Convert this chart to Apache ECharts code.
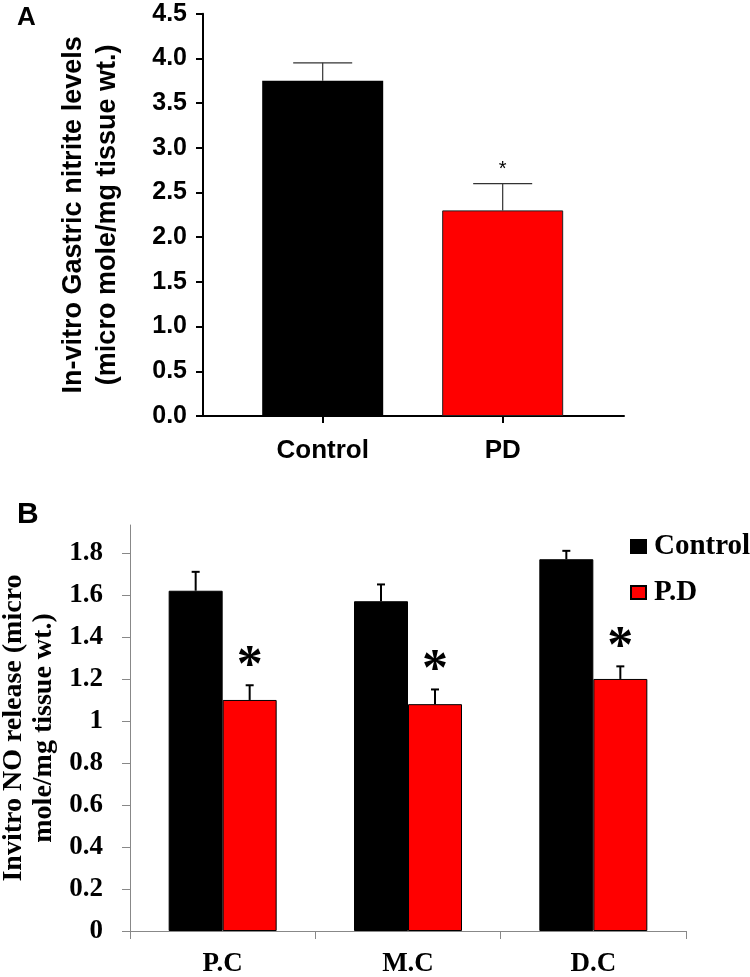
<!DOCTYPE html>
<html>
<head>
<meta charset="utf-8">
<script src="https://cdn.jsdelivr.net/npm/echarts@6/dist/echarts.min.js"></script>
<style>
  html, body { margin: 0; padding: 0; background: #fff; }
  #chart { width: 750px; height: 977px; }
</style>
</head>
<body>
<div id="chart"></div>
<script>
// panel A data
const catsA = ['Control', 'PD'];
const meanA = [3.75, 2.3];
const errA = [0.2, 0.3];
const sigA = [0, 1];
const colorsA = ['#000000', '#ff0000'];

// panel B data
const catsB = ['P.C', 'M.C', 'D.C'];
const controlB = [1.62, 1.57, 1.77];
const controlErrB = [0.09, 0.08, 0.04];
const pdB = [1.10, 1.08, 1.20];
const pdErrB = [0.07, 0.07, 0.06];
const yTicksB = [0, 0.2, 0.4, 0.6, 0.8, 1, 1.2, 1.4, 1.6, 1.8];

const SANS = 'Liberation Sans';
const SERIF = 'Liberation Serif';

let chart = echarts.init(document.getElementById('chart'));

// error bar rows: [x, mean, err, seriesIdx, sig]
let errRowsA = meanA.map((v, i) => [i, v, errA[i], 0, sigA[i]]);
let errRowsB = [];
controlB.forEach((v, i) => errRowsB.push([i, v, controlErrB[i], 0, 0]));
pdB.forEach((v, i) => errRowsB.push([i, v, pdErrB[i], 1, 1]));

function errRenderer(opt) {
  return function (params, api) {
    let cat = api.value(0), mean = api.value(1), err = api.value(2);
    let s = api.value(3), sig = api.value(4);
    let base = api.coord([cat, mean]);
    let x = base[0] + (opt.offset ? (s === 0 ? -opt.offset : opt.offset) : 0);
    let top = api.coord([cat, mean + err])[1];
    let children = [
      { type: 'line', shape: { x1: x, y1: base[1], x2: x, y2: top },
        style: { stroke: opt.color, lineWidth: opt.lw } },
      { type: 'line', shape: { x1: x - opt.cap, y1: top, x2: x + opt.cap, y2: top },
        style: { stroke: opt.color, lineWidth: opt.lw } }
    ];
    if (sig) {
      children.push({ type: 'text', x: x, y: top - opt.starGap,
        style: { text: '*', fill: '#000', font: opt.starFont, align: 'center', verticalAlign: 'middle' } });
    }
    return { type: 'group', children: children };
  };
}

let option = {
  animation: false,
  backgroundColor: '#fff',
  graphic: [
    { type: 'text', left: 17, top: 5, style: { text: 'A', font: 'bold 26px "Liberation Sans"', fill: '#000' } },
    { type: 'text', left: 17, top: 500, style: { text: 'B', font: 'bold 30px "Liberation Sans"', fill: '#000' } }
  ],
  legend: {
    data: ['Control', 'P.D'],
    orient: 'vertical',
    left: 625,
    top: 527,
    itemWidth: 15,
    itemHeight: 13,
    itemGap: 17,
    icon: 'rect',
    textStyle: { fontFamily: SERIF, fontWeight: 'bold', fontSize: 29, color: '#000', padding: [0, 0, 0, 3] }
  },
  grid: [
    { left: 203, top: 13.7, width: 421, height: 402.3, outerBoundsMode: 'none' },
    { left: 130, top: 525, width: 556, height: 406, outerBoundsMode: 'none' }
  ],
  xAxis: [
    {
      gridIndex: 0,
      type: 'value',
      min: -0.665,
      max: 1.674,
      splitLine: { show: false },
      axisLine: { show: true, onZero: false, lineStyle: { color: '#000', width: 2 } },
      axisTick: { show: true, customValues: [0, 1], length: 7, lineStyle: { color: '#000', width: 2 } },
      axisLabel: {
        customValues: [0, 1],
        formatter: v => catsA[Math.round(v)],
        margin: 22,
        fontFamily: SANS, fontWeight: 'bold', fontSize: 26, color: '#000'
      }
    },
    {
      gridIndex: 1,
      type: 'category',
      data: catsB,
      axisLine: { show: true, lineStyle: { color: '#888', width: 1 } },
      axisTick: { show: true, length: 8, lineStyle: { color: '#888', width: 1 } },
      axisLabel: { margin: 20, fontFamily: SERIF, fontWeight: 'bold', fontSize: 27, color: '#000' }
    }
  ],
  yAxis: [
    {
      gridIndex: 0,
      type: 'value',
      min: 0,
      max: 4.5,
      interval: 0.5,
      name: 'In-vitro Gastric nitrite levels\n(micro mole/mg tissue wt.)',
      nameLocation: 'middle',
      nameRotate: 90,
      nameGap: 78,
      nameTextStyle: { fontFamily: SANS, fontWeight: 'bold', fontSize: 27, color: '#000', lineHeight: 34 },
      splitLine: { show: false },
      axisLine: { show: true, onZero: false, lineStyle: { color: '#000', width: 2 } },
      axisTick: { show: true, length: 7, lineStyle: { color: '#000', width: 2 } },
      axisLabel: {
        formatter: v => v.toFixed(1),
        margin: 16,
        fontFamily: SANS, fontWeight: 'bold', fontSize: 25, color: '#000'
      }
    },
    {
      gridIndex: 1,
      type: 'value',
      min: 0,
      max: 1.933,
      name: 'Invitro NO release (micro\nmole/mg tissue wt.)',
      nameLocation: 'middle',
      nameRotate: 90,
      nameGap: 65,
      nameTextStyle: { fontFamily: SERIF, fontWeight: 'bold', fontSize: 28, color: '#000', lineHeight: 30 },
      splitLine: { show: false },
      axisLine: { show: true, lineStyle: { color: '#888', width: 1 } },
      axisTick: { show: true, customValues: yTicksB, length: 8, lineStyle: { color: '#888', width: 1 } },
      axisLabel: {
        customValues: yTicksB,
        margin: 27,
        fontFamily: SERIF, fontWeight: 'bold', fontSize: 27, color: '#000'
      }
    }
  ],
  series: [
    {
      type: 'bar',
      xAxisIndex: 0,
      yAxisIndex: 0,
      barWidth: 121,
      data: meanA.map((v, i) => ({
        value: [i, v],
        itemStyle: { color: colorsA[i], borderColor: '#222', borderWidth: i === 0 ? 0 : 1 }
      }))
    },
    {
      type: 'custom',
      xAxisIndex: 0,
      yAxisIndex: 0,
      encode: { x: 0, y: 1 },
      data: errRowsA,
      z: 5,
      renderItem: errRenderer({ offset: 0, cap: 29.5, color: '#333', lw: 1.2, starGap: 14, starFont: '20px "Liberation Sans"' })
    },
    {
      name: 'Control',
      type: 'bar',
      xAxisIndex: 1,
      yAxisIndex: 1,
      barWidth: 54,
      barGap: '0%',
      itemStyle: { color: '#000', borderColor: '#000', borderWidth: 1 },
      data: controlB
    },
    {
      name: 'P.D',
      type: 'bar',
      xAxisIndex: 1,
      yAxisIndex: 1,
      barWidth: 54,
      barGap: '0%',
      itemStyle: { color: '#ff0000', borderColor: '#000', borderWidth: 1 },
      data: pdB
    },
    {
      type: 'custom',
      xAxisIndex: 1,
      yAxisIndex: 1,
      encode: { x: 0, y: 1 },
      data: errRowsB,
      z: 5,
      renderItem: errRenderer({ offset: 27, cap: 4, color: '#000', lw: 2, starGap: 18, starFont: 'bold 52px "Liberation Serif"' })
    }
  ]
};

chart.setOption(option);
window.addEventListener('resize', () => { chart.resize(); });
</script>
</body>
</html>
